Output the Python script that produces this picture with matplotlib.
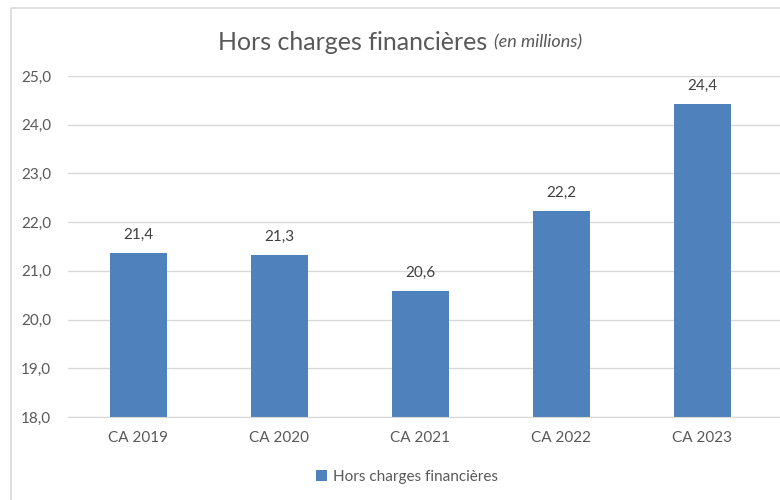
import matplotlib
matplotlib.use("Agg")
import matplotlib.pyplot as plt
from matplotlib.patches import Rectangle

plt.rcParams['font.family'] = ['Lato', 'DejaVu Sans']

# data
categories = ['CA 2019', 'CA 2020', 'CA 2021', 'CA 2022', 'CA 2023']
values = [21.36, 21.33, 20.58, 22.22, 24.42]
series_name = 'Hors charges financières'
yticks = [18, 19, 20, 21, 22, 23, 24, 25]

bar_color = '#4F81BD'
text_color = '#595959'
grid_color = '#D9D9D9'

fig = plt.figure(figsize=(7.8, 5.0), dpi=100)

# chart border (light gray frame, right/bottom cut off like the reference)
fig.add_artist(Rectangle((11 / 780, -0.1), 1.2, 1 - 8 / 500 + 0.1, transform=fig.transFigure,
                         fill=False, edgecolor=grid_color, linewidth=1.2))

ax = fig.add_axes([68 / 780, 1 - 417 / 500, 1 - 68 / 780, 341 / 500])
x = range(len(categories))
bars = ax.bar(x, values, width=0.4, color=bar_color, zorder=3, label=series_name)

ax.set_ylim(18, 25)
ax.set_xlim(-0.5, 4.55)
ax.set_yticks(yticks)
ax.set_yticklabels([f"{t:.1f}".replace('.', ',') for t in yticks])
ax.set_xticks(list(x))
ax.set_xticklabels(categories)
ax.tick_params(axis='y', length=0, pad=12, labelsize=11, labelcolor=text_color)
ax.tick_params(axis='x', length=0, pad=10, labelsize=11, labelcolor=text_color)
ax.grid(axis='y', color=grid_color, linewidth=1, zorder=0)
for s in ['top', 'right', 'left']:
    ax.spines[s].set_visible(False)
ax.spines['bottom'].set_color(grid_color)
ax.spines['bottom'].set_zorder(4)

for i, v in enumerate(values):
    ax.annotate(f"{v:.1f}".replace('.', ','), (i, v), xytext=(0, 8), textcoords='offset points',
                ha='center', va='bottom', fontsize=11, color='#404040')

# title with italic part, centred together around x=400
y_title = 1 - 42 / 500
t1 = fig.text(0.5, y_title, 'Hors charges financières ', fontsize=18, color=text_color,
              ha='left', va='center')
t2 = fig.text(0.5, y_title, '(en millions)', fontsize=13, color=text_color, style='italic',
              ha='left', va='center')
fig.canvas.draw()
w1 = t1.get_window_extent().width / 780
w2 = t2.get_window_extent().width / 780
start = 400 / 780 - (w1 + w2) / 2
t1.set_x(start)
t2.set_x(start + w1)

fig.legend(handles=[bars], labels=[series_name], loc='center', bbox_to_anchor=(407 / 780, 1 - 477 / 500),
           frameon=False, fontsize=11, labelcolor=text_color, handlelength=0.7, handleheight=0.7,
           handletextpad=0.4)

fig.savefig('out.png', dpi=100)
